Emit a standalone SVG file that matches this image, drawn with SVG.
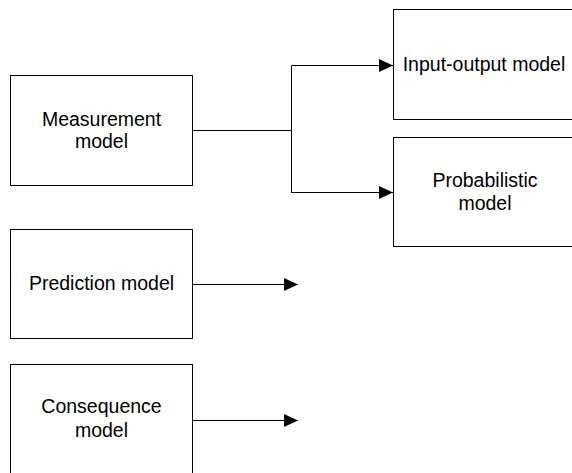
<svg xmlns="http://www.w3.org/2000/svg" width="572" height="473" viewBox="0 0 572 473">
<style>
.box{fill:#fff;stroke:#000;stroke-width:1}
.lbl{font-family:"Liberation Sans",Arial,sans-serif;font-size:19.5px;fill:#000;text-anchor:middle}
.con{fill:none;stroke:#000;stroke-width:1}
</style>
<defs>
<marker id="ah" markerWidth="14" markerHeight="14" refX="14" refY="7" orient="auto" markerUnits="userSpaceOnUse">
<path d="M0,0.5 L14,7 L0,13.5 Z" fill="#000"/>
</marker>
</defs>
<rect width="572" height="473" fill="#fff"/>
<g id="measurement">
<rect class="box" x="10.5" y="75.5" width="182" height="110"/>
<text class="lbl" x="101.5" y="126">Measurement</text>
<text class="lbl" x="101.5" y="148">model</text>
</g>
<g id="input-output">
<rect class="box" x="393.5" y="9.5" width="182" height="110"/>
<text class="lbl" x="484" y="71">Input-output model</text>
</g>
<g id="probabilistic">
<rect class="box" x="393.5" y="137.5" width="182" height="109"/>
<text class="lbl" x="485" y="187">Probabilistic</text>
<text class="lbl" x="485" y="210">model</text>
</g>
<g id="prediction">
<rect class="box" x="10.5" y="229.5" width="182" height="109"/>
<text class="lbl" x="101.5" y="290">Prediction model</text>
</g>
<g id="consequence">
<rect class="box" x="10.5" y="364.5" width="182" height="120"/>
<text class="lbl" x="101.5" y="413">Consequence</text>
<text class="lbl" x="101.5" y="437">model</text>
</g>
<g id="connectors">
<path class="con" d="M193,130.5 H291.5"/>
<path class="con" d="M291.5,193 V65.5 H393" marker-end="url(#ah)"/>
<path class="con" d="M291.5,130 V192.5 H393" marker-end="url(#ah)"/>
<path class="con" d="M193,284.5 H298" marker-end="url(#ah)"/>
<path class="con" d="M193,420.5 H298" marker-end="url(#ah)"/>
</g>
</svg>
